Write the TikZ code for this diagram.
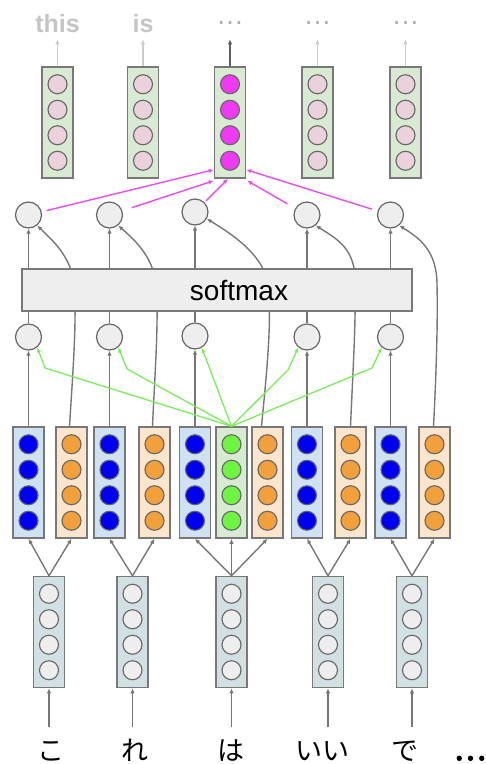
\documentclass[tikz,border=0pt]{standalone}
\usepackage{fontspec}
\setmainfont{Liberation Sans}
\newfontfamily\jp{Noto Sans CJK JP}
\newfontfamily\jpb{Noto Sans CJK JP}[FakeBold=4]
\usetikzlibrary{arrows.meta,calc}
\definecolor{bordergray}{HTML}{787878}
\definecolor{circborder}{HTML}{666666}
\definecolor{linegray}{HTML}{777777}
\definecolor{lightline}{HTML}{CCCCCC}
\definecolor{lighttext}{HTML}{C4C4C4}
\definecolor{dottext}{HTML}{B0B0B0}
\definecolor{topbox}{HTML}{D9EAD3}
\definecolor{pinkc}{HTML}{EAD1DC}
\definecolor{magc}{HTML}{EE3AF0}
\definecolor{magline}{HTML}{E84CF0}
\definecolor{bluebox}{HTML}{CFE2F3}
\definecolor{bluec}{HTML}{0000F0}
\definecolor{orangebox}{HTML}{FCE5CD}
\definecolor{orangec}{HTML}{F2A03C}
\definecolor{greenbox}{HTML}{D9EAD3}
\definecolor{greenc}{HTML}{6EF542}
\definecolor{greenline}{HTML}{78EE5A}
\definecolor{embbox}{HTML}{D0E0E3}
\definecolor{neuron}{HTML}{EEEEEE}
\newcommand\mkvec[5]{%
  \node[vbox,fill=#4] (#1) at (#2,#3) {};
  \foreach \k/\dy in {1/-38.25,2/-12.75,3/12.75,4/38.25}{%
    \node[vcirc,fill=#5] (#1-\k) at (#2,#3+\dy) {};}%
}
\begin{document}
\begin{tikzpicture}[x=1pt,y=-1pt,
  vbox/.style={draw=bordergray,line width=1.5pt,rectangle,minimum width=31pt,minimum height=111pt,inner sep=0pt},
  vcirc/.style={draw=circborder,line width=1.1pt,circle,minimum size=19pt,inner sep=0pt},
  bigc/.style={draw=circborder,line width=1.2pt,circle,minimum size=26pt,inner sep=0pt,fill=neuron},
  gline/.style={draw=linegray,line width=1.4pt},
  garr/.style={gline,-{Latex[length=5pt,width=4.5pt]}},
  larr/.style={draw=lightline,line width=1.4pt,-{Latex[length=5pt,width=4.5pt]}},
  darr/.style={draw=linegray!80!black,line width=1.4pt,-{Latex[length=5pt,width=4.5pt]}},
  marr/.style={draw=magline,line width=1.4pt,-{Latex[length=5pt,width=4.5pt]}},
  grarr/.style={draw=greenline,line width=1.3pt,-{Latex[length=5pt,width=4.5pt]}},
  toptext/.style={text=lighttext,font=\bfseries\fontsize{25}{25}\selectfont,anchor=base,inner sep=0pt},
  dotstext/.style={text=dottext,font=\fontsize{28}{28}\selectfont,anchor=base,inner sep=0pt},
  jptext/.style={font=\jp\fontsize{27}{27}\selectfont,anchor=base,inner sep=0pt}
]
\useasboundingbox (0,0) rectangle (486,764);

% ---------- output vectors ----------
\mkvec{t1}{57.5}{122.5}{topbox}{pinkc}
\mkvec{t2}{143}{122.5}{topbox}{pinkc}
\mkvec{t3}{230}{122.5}{topbox}{magc}
\mkvec{t4}{317.5}{122.5}{topbox}{pinkc}
\mkvec{t5}{405.5}{122.5}{topbox}{pinkc}

\node[toptext] (w1) at (57.5,32) {this};
\node[toptext] (w2) at (143,32) {is};
\node[dotstext] (w3) at (230,24) {…};
\node[dotstext] (w4) at (317.5,24) {…};
\node[dotstext] (w5) at (405.5,24) {…};

\draw[larr] (t1.north) -- ($(t1.north)+(0,-27)$);
\draw[larr] (t2.north) -- ($(t2.north)+(0,-27)$);
\draw[darr] (t3.north) -- ($(t3.north)+(0,-27)$);
\draw[larr] (t4.north) -- ($(t4.north)+(0,-27)$);
\draw[larr] (t5.north) -- ($(t5.north)+(0,-27)$);

% ---------- attention circles ----------
\node[bigc] (u1) at (28.5,215) {};
\node[bigc] (u2) at (109.5,215) {};
\node[bigc] (u3) at (195,212) {};
\node[bigc] (u4) at (307,215) {};
\node[bigc] (u5) at (390.5,215) {};

\node[bigc] (l1) at (28.5,337) {};
\node[bigc] (l2) at (109.5,337) {};
\node[bigc] (l3) at (195,336) {};
\node[bigc] (l4) at (307,337) {};
\node[bigc] (l5) at (390.5,337) {};

% ---------- encoder vectors ----------
\mkvec{b1}{28.5}{482.5}{bluebox}{bluec}
\mkvec{o1}{71.5}{482.5}{orangebox}{orangec}
\mkvec{b2}{109.5}{482.5}{bluebox}{bluec}
\mkvec{o2}{154.5}{482.5}{orangebox}{orangec}
\mkvec{b3}{195}{482.5}{bluebox}{bluec}
\mkvec{g}{231.5}{482.5}{greenbox}{greenc}
\mkvec{o3}{267.5}{482.5}{orangebox}{orangec}
\mkvec{b4}{307}{482.5}{bluebox}{bluec}
\mkvec{o4}{350.5}{482.5}{orangebox}{orangec}
\mkvec{b5}{390.5}{482.5}{bluebox}{bluec}
\mkvec{o5}{434.5}{482.5}{orangebox}{orangec}

% ---------- embeddings ----------
\mkvec{e1}{49}{632}{embbox}{neuron}
\mkvec{e2}{132.5}{632}{embbox}{neuron}
\mkvec{e3}{231.5}{632}{embbox}{neuron}
\mkvec{e4}{328}{632}{embbox}{neuron}
\mkvec{e5}{412}{632}{embbox}{neuron}

\node[jptext] (j1) at (51,760) {こ};
\node[jptext] (j2) at (135,760) {れ};
\node[jptext] (j3) at (231,760) {は};
\node[jptext] (j4) at (322,760) {いい};
\node[jptext] (j5) at (405,760) {で};
\node[font=\jpb\fontsize{30}{30}\selectfont,anchor=base,inner sep=0pt] (j6) at (470,760) {…};

% input arrows
\foreach \n in {1,...,5}{%
  \draw[garr] ($(e\n.south)+(0,39)$) -- (e\n.south);}

% embedding -> encoder
\draw[garr] (e1.north) -- (b1.south);
\draw[garr] (e1.north) -- (o1.south);
\draw[garr] (e2.north) -- (b2.south);
\draw[garr] (e2.north) -- (o2.south);
\draw[garr] (e3.north) -- (b3.south);
\draw[garr] (e3.north) -- (g.south);
\draw[garr] (e3.north) -- (o3.south);
\draw[garr] (e4.north) -- (b4.south);
\draw[garr] (e4.north) -- (o4.south);
\draw[garr] (e5.north) -- (b5.south);
\draw[garr] (e5.north) -- (o5.south);

% backward states curving up (behind softmax)
\draw[garr] ([xshift=-2pt]o1.north) .. controls (73,370) and (77,320) .. (74,285)
   .. controls (71.5,255) and (49.5,238) .. (u1.-50);
\draw[garr] ([xshift=-2pt]o2.north) .. controls (155,370) and (159,320) .. (156,285)
   .. controls (153.5,255) and (131,237) .. (u2.-50);
\draw[garr] ([xshift=-6pt]o3.north) .. controls (267,370) and (272,320) .. (268,285)
   .. controls (264.5,255) and (231,233.5) .. (u3.-30);
\draw[garr] (o4.north) .. controls (353,370) and (356,320) .. (355,285)
   .. controls (357,248) and (335,238) .. (u4.-50);
\draw[garr] ([xshift=-1pt]o5.north) .. controls (436,380) and (438,320) .. (437,285)
   .. controls (437,250) and (419,238) .. (u5.-50);

% forward states up to lower circles
\draw[garr] (b1.north) -- (l1.south);
\draw[garr] (b2.north) -- (l2.south);
\draw[garr] (b3.north) -- (l3.south);
\draw[garr] (b4.north) -- (l4.south);
\draw[garr] (b5.north) -- (l5.south);

% lower circles -> softmax -> upper circles
\foreach \n in {1,...,5}{%
  \draw[gline] (l\n.north) -- (l\n.north |- 0,311);}
\node[draw=bordergray,line width=1.5pt,fill=neuron,minimum width=390pt,minimum height=42pt,inner sep=0pt,
      font=\fontsize{28}{28}\selectfont] (sm) at (217,290) {\hspace*{44pt}softmax};
\foreach \n in {1,...,5}{%
  \draw[garr] (u\n.south |- sm.north) -- (u\n.south);}

% green attention lines
\draw[grarr] (g.north) -- ($(l1)+(16.5,31)$) -- (l1.-50);
\draw[grarr] (g.north) -- ($(l2)+(17.5,32)$) -- (l2.-50);
\draw[grarr] (g.north) -- (l3.-60);
\draw[grarr] (g.north) -- ($(l4)+(-19,33)$) -- (l4.-130);
\draw[grarr] (g.north) -- ($(l5)+(-18.5,31)$) -- (l5.-130);

% magenta context lines
\draw[marr,shorten <=5pt] (u1) -- ($(t3.south west)+(0,-9)$);
\draw[marr,shorten <=10pt] (u2) -- ($(t3.south west)+(0,2)$);
\draw[marr,shorten <=2pt] (u3) -- ($(t3.south)+(-2,0)$);
\draw[marr,shorten <=9pt] (u4) -- ($(t3.south east)+(1,2)$);
\draw[marr,shorten <=6pt] (u5) -- ($(t3.south east)+(0,-9)$);
\end{tikzpicture}
\end{document}
